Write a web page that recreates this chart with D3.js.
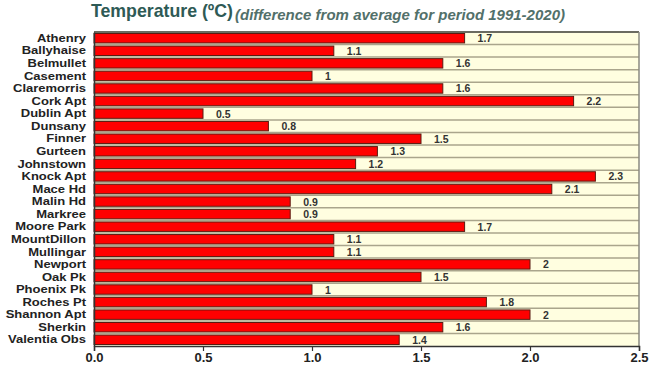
<!DOCTYPE html>
<html><head><meta charset="utf-8">
<script src="https://cdn.jsdelivr.net/npm/d3@7"></script>
<style>body{margin:0;background:#fff;} text{font-family:"Liberation Sans",Arial,sans-serif;}</style>
</head><body>
<svg id="c" width="650" height="368"></svg>
<script>
const stations = ["Athenry","Ballyhaise","Belmullet","Casement","Claremorris","Cork Apt","Dublin Apt","Dunsany","Finner","Gurteen","Johnstown","Knock Apt","Mace Hd","Malin Hd","Markree","Moore Park","MountDillon","Mullingar","Newport","Oak Pk","Phoenix Pk","Roches Pt","Shannon Apt","Sherkin","Valentia Obs"];
const anomalies = [1.7,1.1,1.6,1,1.6,2.2,0.5,0.8,1.5,1.3,1.2,2.3,2.1,0.9,0.9,1.7,1.1,1.1,2,1.5,1,1.8,2,1.6,1.4];
const xTicks = [0,0.5,1.0,1.5,2.0,2.5];
const titleMain = "Temperature (ºC)";
const titleSub = "(difference from average for period 1991-2020)";

const svg = d3.select("#c");
const L = 94, R = 639, T = 32, B = 346;
const x = d3.scaleLinear().domain([0,2.5]).range([L,R]);
const y = d3.scaleBand().domain(stations).range([T,B]).paddingInner(0.25).paddingOuter(0.12);

svg.append("rect").attr("x",L).attr("y",T).attr("width",R-L).attr("height",B-T).attr("fill","#fffee0");

// row separators
svg.append("g").selectAll("line").data(stations.slice(1)).join("line")
  .attr("x1",L).attr("x2",R)
  .attr("y1",d => y(d) - y.step()*y.paddingInner()/2)
  .attr("y2",d => y(d) - y.step()*y.paddingInner()/2)
  .attr("stroke","#aaa58c").attr("stroke-width",1.5);

// bars
svg.append("g").selectAll("rect").data(stations).join("rect")
  .attr("x",x(0)).attr("y",d=>y(d))
  .attr("width",(d,i)=>x(anomalies[i])-x(0)).attr("height",y.bandwidth())
  .attr("fill","#ff0000").attr("stroke","#5a1a10").attr("stroke-width",1);

// value labels
svg.append("g").selectAll("text").data(stations).join("text")
  .attr("x",(d,i)=>x(anomalies[i])+13).attr("y",d=>y(d)+y.bandwidth()/2+4)
  .attr("font-size",10.5).attr("font-weight","bold").attr("fill","#333")
  .text((d,i)=>String(anomalies[i]));

// frame top/right
svg.append("line").attr("x1",L).attr("x2",R).attr("y1",T).attr("y2",T).attr("stroke","#6b6b60").attr("stroke-width",2);
svg.append("line").attr("x1",R).attr("x2",R).attr("y1",T).attr("y2",B).attr("stroke","#8a8a80").attr("stroke-width",1.5);

// y axis
const ya = svg.append("g").attr("transform",`translate(${L},0)`).call(d3.axisLeft(y).tickSize(0).tickPadding(8));
ya.select(".domain").attr("stroke","#333").attr("stroke-width",1.5);
ya.selectAll("text").attr("font-size",11.5).attr("font-weight","bold").attr("fill","#222")
  .attr("font-family","Liberation Sans, Arial, sans-serif")
  .each(function(){ const w = this.getComputedTextLength(); d3.select(this).attr("textLength", w*1.13).attr("lengthAdjust","spacingAndGlyphs"); });

// x axis
const xa = svg.append("g").attr("transform",`translate(0,${B})`)
  .call(d3.axisBottom(x).tickValues(xTicks).tickFormat(d3.format(".1f")).tickSize(5).tickPadding(2));
xa.select(".domain").attr("stroke","#333").attr("stroke-width",1.5);
xa.selectAll(".tick line").attr("stroke","#333").attr("stroke-width",1.2);
xa.selectAll("text").attr("font-size",13).attr("font-weight","bold").attr("fill","#222")
  .attr("font-family","Liberation Sans, Arial, sans-serif");

// titles
svg.append("text").attr("x",91).attr("y",17).attr("font-size",19).attr("font-weight","bold")
  .attr("fill","#2e5a55").attr("textLength",142).attr("lengthAdjust","spacingAndGlyphs").text(titleMain);
svg.append("text").attr("x",235).attr("y",20).attr("font-size",15).attr("font-weight","bold").attr("font-style","italic")
  .attr("fill","#52706a").attr("textLength",330).attr("lengthAdjust","spacingAndGlyphs").text(titleSub);
</script>
</body></html>
